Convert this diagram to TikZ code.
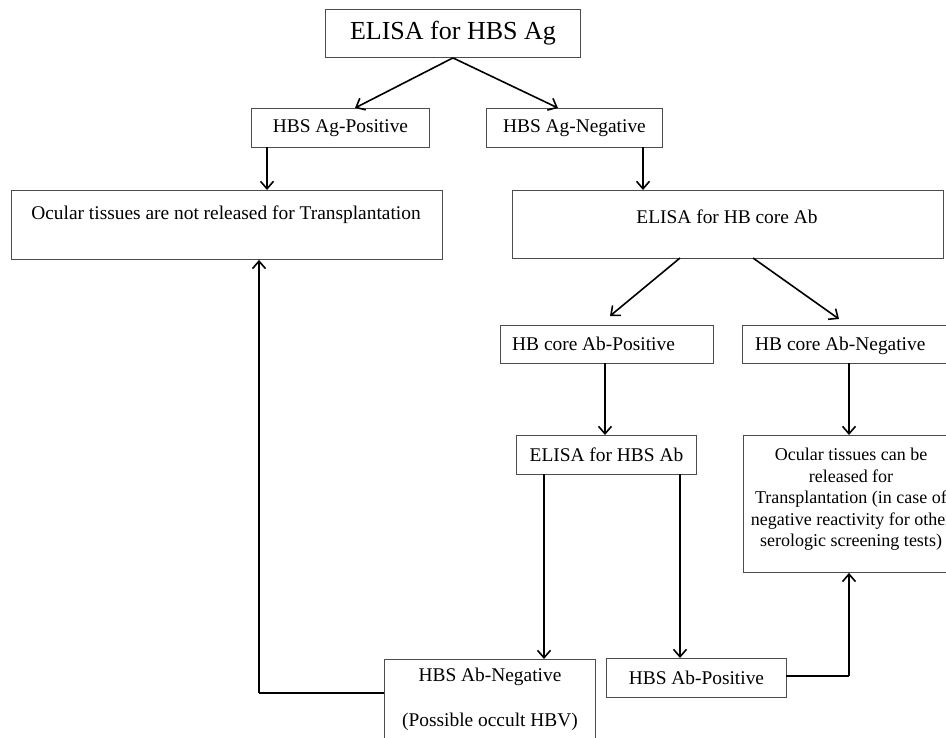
\documentclass[tikz,border=0pt]{standalone}
\usepackage{fontspec}
\setmainfont{Liberation Serif}
\usetikzlibrary{arrows.meta}
\begin{document}
\begin{tikzpicture}[x=1pt,y=-1pt,
  box/.style={draw=black!70, line width=0.9pt, inner sep=0pt, anchor=north west, fill=white},
  txt/.style={inner sep=0pt, font=\fontsize{19.4}{21.6}\selectfont},
  arr/.style={line width=1.6pt, -{Straight Barb[length=7.5pt,width=13pt,line width=1.6pt]}},
  conn/.style={line width=1.6pt}]
\useasboundingbox (0,0) rectangle (946,737);
\clip (0,0) rectangle (946,737);
% boxes
\node[box, minimum width=255pt, minimum height=48pt] (top) at (325,9) {};
\node[txt, font=\fontsize{26}{28}\selectfont] (topT) at (top.center) {ELISA for HBS Ag};
\node[box, minimum width=178pt, minimum height=39pt] (agpos) at (251,108) {};
\node[txt] (agposT) at (agpos.center) {HBS Ag-Positive};
\node[box, minimum width=176pt, minimum height=39pt] (agneg) at (486,108) {};
\node[txt] (agnegT) at (agneg.center) {HBS Ag-Negative};
\node[box, minimum width=431pt, minimum height=69pt] (notrel) at (11,190) {};
\node[txt] (notrelT) at (226,215) {Ocular tissues are not released for Transplantation};
\node[box, minimum width=431pt, minimum height=68pt] (core) at (512,190) {};
\node[txt] (coreT) at (727,217) {ELISA for HB core Ab};
\node[box, minimum width=213pt, minimum height=38pt] (cpos) at (500,325) {};
\node[txt, anchor=base west] (cposT) at (512,350) {HB core Ab-Positive};
\node[box, minimum width=220pt, minimum height=38pt] (cneg) at (742,325) {};
\node[txt, anchor=base west] (cnegT) at (755,350) {HB core Ab-Negative};
\node[box, minimum width=180pt, minimum height=39pt] (hbsab) at (516,435) {};
\node[txt] (hbsabT) at (hbsab.center) {ELISA for HBS Ab};
\node[box, minimum width=212pt, minimum height=137pt] (canrel) at (743,435) {};
\node[txt, font=\fontsize{18}{21.5}\selectfont, align=center, anchor=north] (canrelT) at (851,448) {Ocular tissues can be\\released for\\Transplantation (in case of\\negative reactivity for other\\serologic screening tests)};
\node[box, minimum width=211pt, minimum height=80pt] (abneg) at (384,659) {};
\node[txt] (abnegT1) at (490,677) {HBS Ab-Negative};
\node[txt] (abnegT2) at (490,722) {(Possible occult HBV)};
\node[box, minimum width=180pt, minimum height=39pt] (abpos) at (606,658) {};
\node[txt] (abposT) at (abpos.center) {HBS Ab-Positive};
% connector end points
\coordinate (t1) at (355,108);
\coordinate (t2) at (558,108);
\coordinate (p1) at (267,147);
\coordinate (n1) at (643,147);
\coordinate (k1) at (680,258);
\coordinate (k1e) at (610,316);
\coordinate (k2) at (753,258);
\coordinate (k2e) at (839,319);
\coordinate (cp) at (605,363);
\coordinate (cn) at (849,363);
\coordinate (h1) at (544,474);
\coordinate (h2) at (680,474);
\coordinate (an) at (384,693);
\coordinate (anc) at (259,693);
\coordinate (ap) at (786,676);
\coordinate (apc) at (849,676);
% connectors
\draw[arr] (top.south) -- (t1);
\draw[arr] (top.south) -- (t2);
\draw[arr] (p1) -- (p1 |- notrel.north);
\draw[arr] (n1) -- (n1 |- core.north);
\draw[arr] (k1) -- (k1e);
\draw[arr] (k2) -- (k2e);
\draw[arr] (cp) -- (cp |- hbsab.north);
\draw[arr] (cn) -- (cn |- canrel.north);
\draw[arr] (h1) -- (h1 |- abneg.north);
\draw[arr] (h2) -- (h2 |- abpos.north);
\draw[conn] (an) -- (anc);
\draw[arr] (anc) -- (anc |- notrel.south);
\draw[conn] (ap) -- (apc);
\draw[arr] (apc) -- (apc |- canrel.south);
\end{tikzpicture}
\end{document}
